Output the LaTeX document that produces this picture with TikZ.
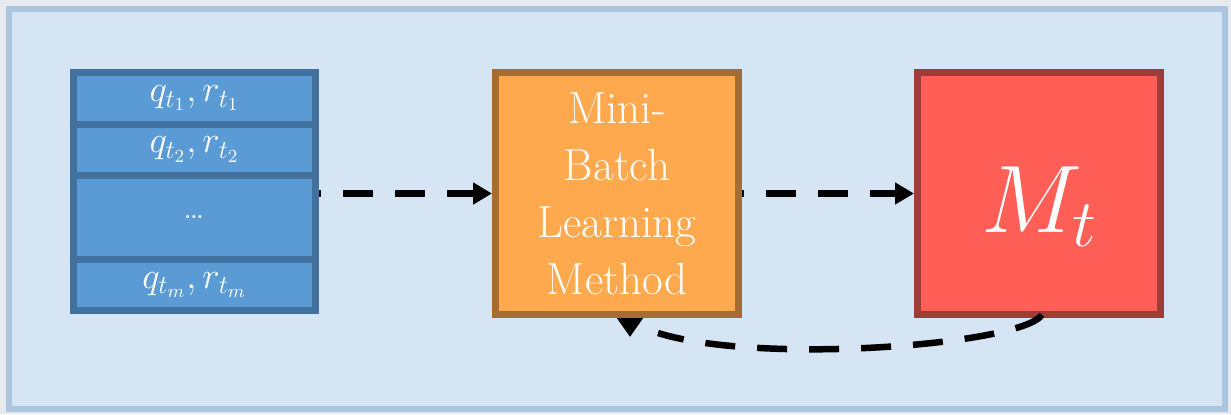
\RequirePackage{fix-cm}
\documentclass[tikz,border=0pt]{standalone}
\usetikzlibrary{arrows.meta}
\definecolor{pagegray}{HTML}{E6EAEF}
\definecolor{framefill}{HTML}{D6E5F4}
\definecolor{frameline}{HTML}{ADC6DF}
\definecolor{cellfill}{HTML}{5B9BD5}
\definecolor{cellline}{HTML}{41719C}
\definecolor{methodfill}{HTML}{FFA94F}
\definecolor{methodline}{HTML}{A66C30}
\definecolor{modelfill}{HTML}{FF5F57}
\definecolor{modelline}{HTML}{9E3C38}
\begin{document}
\begin{tikzpicture}
  [x=0.5pt,y=-0.5pt,
   cell/.style={rectangle,draw=cellline,fill=cellfill,line width=3.5pt,
                inner sep=0pt,minimum width=121pt,text=white,
                font=\fontsize{18.5}{22}\selectfont},
   block/.style={rectangle,line width=3.5pt,inner sep=0pt,
                 minimum width=121.5pt,minimum height=121pt,text=white},
   flow/.style={line width=3.25pt,dash pattern=on 15pt off 11pt,dash phase=14pt,
                -{Triangle[length=9.5pt,width=10.5pt]}},
   feedback/.style={line width=3.25pt,dash pattern=on 15pt off 11pt},
   feedhead/.style={line width=3.25pt,-{Triangle[length=9.5pt,width=12.5pt]}}]
  \fill[pagegray] (0,0) rectangle (1231,414);
  \draw[frameline,fill=framefill,line width=3pt] (8.5,8.5) rectangle (1225,408.5);

  \node (c1) at (194.5,98.25) [cell,minimum height=25.75pt] {$q_{t_1},r_{t_1}$};
  \node (c2) at (194.5,149.5) [cell,minimum height=25.5pt] {$q_{t_2},r_{t_2}$};
  \node (c3) at (194.5,217.25) [cell,minimum height=42.25pt] {\dots};
  \node (c4) at (194.5,285) [cell,minimum height=25.5pt] {$q_{t_m},r_{t_m}$};

  \node (method) at (617,193.5) [block,draw=methodline,fill=methodfill,align=center,
        font=\fontsize{22.5}{28.5}\selectfont] {Mini-\\Batch\\Learning\\Method};
  \node (model) at (1039,193.5) [block,draw=modelline,fill=modelfill,
        font=\fontsize{48}{56}\selectfont] {\raisebox{-19.5pt}[0pt][0pt]{$M_t$}};

  \draw[flow] (c3.east |- method.west) -- (method.west);
  \draw[flow] (method.east) -- (model.west);

  \coordinate (fbend) at (658,333);
  \coordinate (fbtip) at (630,337);
  \draw[feedback] ([xshift=1.5pt,yshift=1.5pt]model.south)
    .. controls (1020,345) and (760,365) .. (fbend);
  \draw[feedhead] (fbtip |- method.south) -- (fbtip);
\end{tikzpicture}
\end{document}
